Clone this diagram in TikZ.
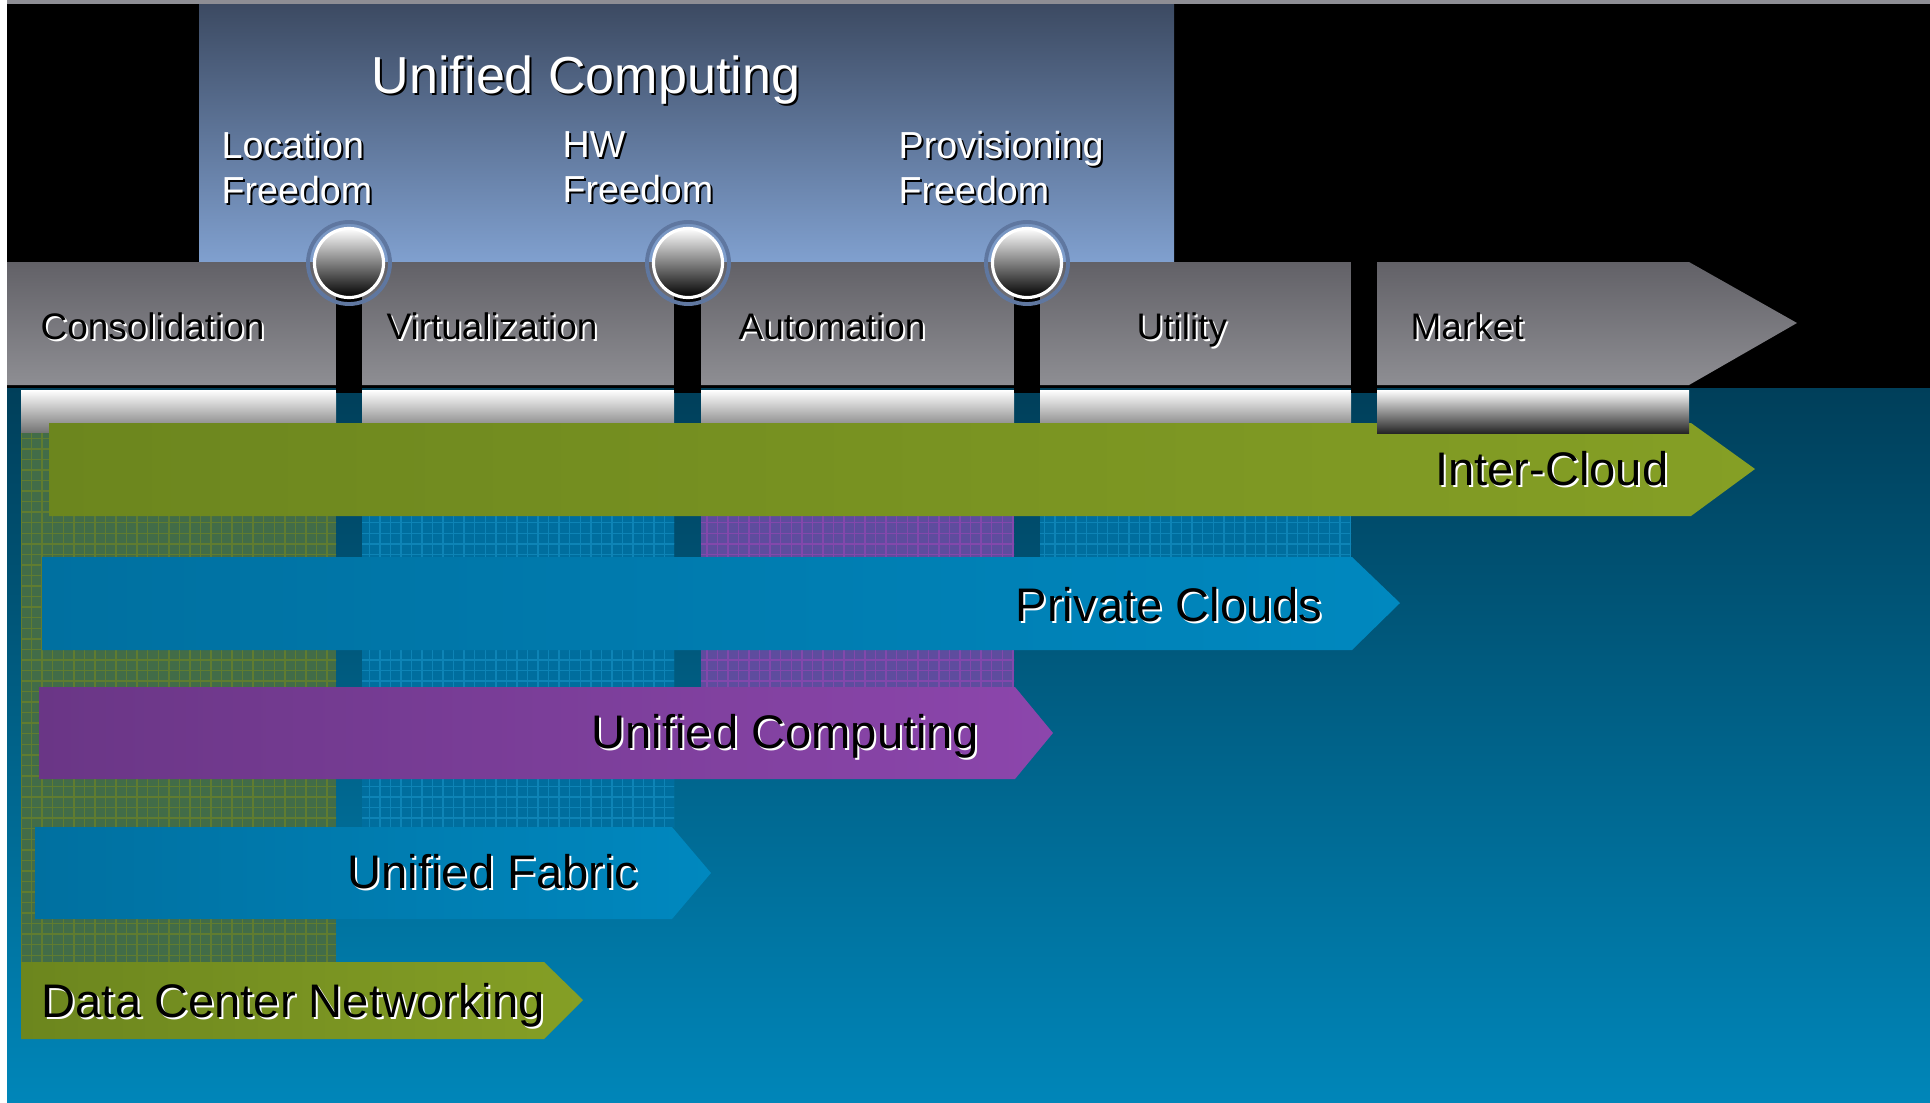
\documentclass[tikz,border=0pt]{standalone}
\usepackage{fontspec}
\setmainfont{Liberation Sans}
\usetikzlibrary{patterns,positioning}

\definecolor{barTop}{RGB}{98,97,103}
\definecolor{barBot}{RGB}{142,142,147}
\definecolor{boxTop}{RGB}{60,74,98}
\definecolor{boxBot}{RGB}{128,160,207}
\definecolor{seaTop}{RGB}{0,63,90}
\definecolor{seaBot}{RGB}{0,134,185}
\definecolor{oliveL}{RGB}{108,134,30}
\definecolor{oliveR}{RGB}{133,159,37}
\definecolor{skyL}{RGB}{0,112,160}
\definecolor{skyR}{RGB}{0,136,191}
\definecolor{plumL}{RGB}{106,54,134}
\definecolor{plumR}{RGB}{140,70,172}
\definecolor{ringBlue}{RGB}{95,119,160}
\definecolor{topStrip}{RGB}{142,142,148}
\definecolor{mossBase}{RGB}{66,108,72}
\definecolor{mossLine}{RGB}{96,124,48}
\definecolor{tealBase}{RGB}{0,110,158}
\definecolor{tealLine}{RGB}{14,132,182}
\definecolor{lilacBase}{RGB}{94,76,158}
\definecolor{lilacLine}{RGB}{130,72,172}

\tikzset{
  stagetxt/.style={font=\fontsize{10.5}{12}\selectfont, inner sep=0pt, text=black},
  freetxt/.style={font=\fontsize{10.7}{12.8}\selectfont, inner sep=0pt, text=white, align=left},
  titletxt/.style={font=\fontsize{14.8}{17}\selectfont, inner sep=0pt, text=white},
  bandtxt/.style={font=\fontsize{13.4}{16}\selectfont, inner sep=0pt, text=black},
  pipe/.style={top color=white, middle color=white!88!black, bottom color=black!55},
}

% text drawn twice: shadow first, then the text itself
\newcommand{\embossed}[6]{%
  \node[#2, anchor=#3, text=#5, shift={(2,2)}] (#1-sh) at (#4) {#6};
  \node[#2, anchor=#3] (#1) at (#4) {#6};
}

\begin{document}
\begin{tikzpicture}[x=0.01cm, y=-0.01cm]
  \useasboundingbox (0,0) rectangle (1930,1103);
  \fill[white] (0,0) rectangle (1930,1103);

  % backgrounds
  \fill[topStrip] (7,0) rectangle (1930,4);
  \fill[black] (7,4) rectangle (1930,388);
  \shade[top color=seaTop, bottom color=seaBot] (7,388) rectangle (1930,1103);
  \shade[top color=boxTop, bottom color=boxBot] (199,4) rectangle (1174,262);

  % stage bar
  \shade[top color=barTop, bottom color=barBot]
    (7,262) -- (1689,262) -- (1797,323) -- (1689,385) -- (7,385) -- cycle;

  % pipes under the stages
  \shade[pipe] (21,390) rectangle (336,433);
  \shade[pipe] (362,390) rectangle (674,433);
  \shade[pipe] (701,390) rectangle (1014,433);
  \shade[pipe] (1040,390) rectangle (1351,433);

  % hatched columns
  \fill[mossBase] (21,433) rectangle (336,962);
  \fill[pattern=grid, pattern color=mossLine] (21,433) rectangle (336,962);
  \fill[tealBase] (362,433) rectangle (674,827);
  \fill[pattern=grid, pattern color=tealLine] (362,433) rectangle (674,827);
  \fill[lilacBase] (701,433) rectangle (1014,687);
  \fill[pattern=grid, pattern color=lilacLine] (701,433) rectangle (1014,687);
  \fill[tealBase] (1040,433) rectangle (1351,557);
  \fill[pattern=grid, pattern color=tealLine] (1040,433) rectangle (1351,557);

  % bands
  \shade[left color=oliveL, right color=oliveR]
    (49,423) -- (1691,423) -- (1755,469) -- (1691,516) -- (49,516) -- cycle;
  \shade[left color=skyL, right color=skyR]
    (42,557) -- (1352,557) -- (1400,603) -- (1352,650) -- (42,650) -- cycle;
  \shade[left color=plumL, right color=plumR]
    (39,687) -- (1015,687) -- (1053,733) -- (1015,779) -- (39,779) -- cycle;
  \shade[left color=skyL, right color=skyR]
    (35,827) -- (672,827) -- (711,873) -- (672,919) -- (35,919) -- cycle;
  \shade[left color=oliveL, right color=oliveR]
    (21,962) -- (544,962) -- (583,1000) -- (544,1039) -- (21,1039) -- cycle;

  \shade[pipe, bottom color=black!85] (1377,390) rectangle (1689,433);

  % posts and knobs
  \fill[black] (336,295) rectangle (362,393);
  \fill[black] (674,295) rectangle (701,393);
  \fill[black] (1014,295) rectangle (1040,393);
  \fill[black] (1351,262) rectangle (1377,393);
  \foreach \cx in {349,688,1027} {
    \draw[ringBlue, line width=1.1pt] (\cx,263) circle (0.41cm);
    \shade[top color=white, middle color=black!22, bottom color=black] (\cx,263) circle (0.345cm);
    \draw[white, line width=0.9pt] (\cx,263) circle (0.345cm);
  }

  % texts
  \embossed{title}{titletxt}{base}{586,93}{black}{Unified Computing}
  \embossed{loc}{freetxt}{north west}{221,131}{black}{Location\\Freedom}
  \embossed{hw}{freetxt}{north west}{562,131}{black}{HW\\Freedom}
  \embossed{prov}{freetxt}{north west}{898,131}{black}{Provisioning\\Freedom}

  \embossed{cons}{stagetxt}{base west}{40,339}{white}{Consolidation}
  \embossed{virt}{stagetxt}{base west}{386,339}{white}{Virtualization}
  \embossed{auto}{stagetxt}{base west}{738,339}{white}{Automation}
  \embossed{util}{stagetxt}{base west}{1136,339}{white}{Utility}
  \embossed{mkt}{stagetxt}{base west}{1410,339}{white}{Market}

  \embossed{ic}{bandtxt}{base east}{1669,485}{white}{Inter-Cloud}
  \embossed{pc}{bandtxt}{base east}{1323,621}{white}{Private Clouds}
  \embossed{uc}{bandtxt}{base east}{980,748}{white}{Unified Computing}
  \embossed{uf}{bandtxt}{base east}{639,888}{white}{Unified Fabric}
  \embossed{dcn}{bandtxt}{base west}{41,1017}{white}{Data Center Networking}
\end{tikzpicture}
\end{document}
